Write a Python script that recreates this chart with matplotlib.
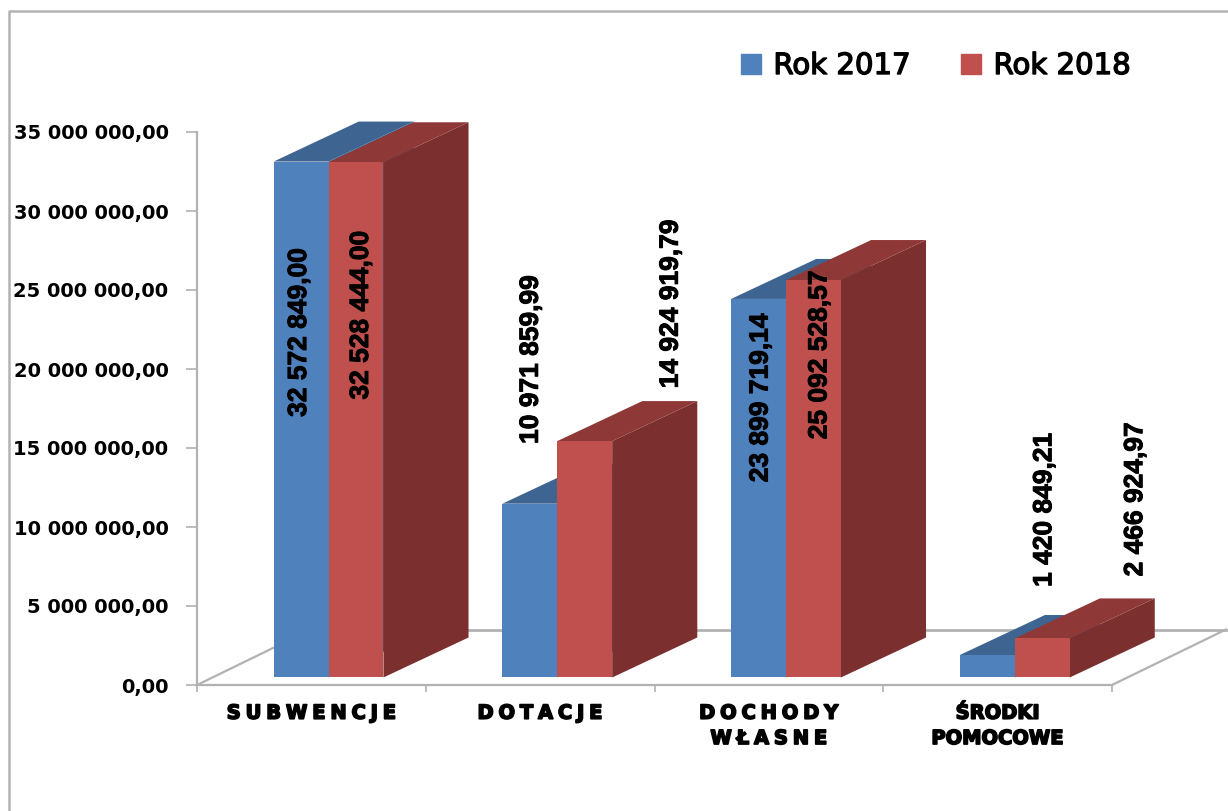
import matplotlib
matplotlib.use('Agg')
import matplotlib.pyplot as plt
import matplotlib.patheffects as pe
from matplotlib.lines import Line2D
from matplotlib.patches import Patch

categories = ['SUBWENCJE', 'DOTACJE', 'DOCHODY\nWŁASNE', 'ŚRODKI\nPOMOCOWE']
rok_2017 = [32572849.00, 10971859.99, 23899719.14, 1420849.21]
rok_2018 = [32528444.00, 14924919.79, 25092528.57, 2466924.97]
labels_2017 = ['32 572 849,00', '10 971 859,99', '23 899 719,14', '1 420 849,21']
labels_2018 = ['32 528 444,00', '14 924 919,79', '25 092 528,57', '2 466 924,97']
y_ticks = [0, 5000000, 10000000, 15000000, 20000000, 25000000, 30000000, 35000000]
y_tick_labels = ['0,00', '5 000 000,00', '10 000 000,00', '15 000 000,00',
                 '20 000 000,00', '25 000 000,00', '30 000 000,00', '35 000 000,00']

# label shifts in pixels from the top centre of the front face
shift_2017 = [(-2, -171), (1, 144), (2, -99), (57, 145)]
shift_2018 = [(5, -153), (86, 137), (6, -75), (93, 139)]

W, H = 1228, 811
GRAY = '#b2b2b2'
BAR_W = 0.24
BAR_X = 0.335
DEPTH_X = 0.372
DEPTH_Y = 40 * 35000000 / 553


# the front plane sits a bit above the axis
def front(v):
  return 475000 + v * 1.0025


def draw_bar(ax, x, v, face, top, side):
  ax.fill([x + BAR_W, x + BAR_W + DEPTH_X, x + BAR_W + DEPTH_X, x + BAR_W],
          [front(0), front(0) + DEPTH_Y, front(v) + DEPTH_Y, front(v)],
          color=side, lw=0, clip_on=False, zorder=3)
  ax.fill([x, x + DEPTH_X, x + BAR_W + DEPTH_X, x + BAR_W],
          [front(v), front(v) + DEPTH_Y, front(v) + DEPTH_Y, front(v)],
          color=top, lw=0, clip_on=False, zorder=3)
  ax.fill([x, x + BAR_W, x + BAR_W, x],
          [front(0), front(0), front(v), front(v)], color=face, lw=0, clip_on=False, zorder=3)


def spaced(text):
  return '\n'.join('\u2005'.join(line) for line in text.split('\n'))


fig = plt.figure(figsize=(W / 100, H / 100), dpi=100)
ax = fig.add_axes([197 / W, (H - 685) / H, 915 / W, 553 / H])
ax.patch.set_visible(False)
ax.set_xlim(0, 4)
ax.set_ylim(0, 35000000)

for s in ['top', 'right']:
  ax.spines[s].set_visible(False)
for s in ['left', 'bottom']:
  ax.spines[s].set_color(GRAY)
  ax.spines[s].set_linewidth(1.6)

ax.set_yticks(y_ticks)
ax.set_yticklabels(y_tick_labels, fontsize=14, fontweight='bold', family='DejaVu Sans')
ax.tick_params(axis='y', length=8, width=1.2, color=GRAY, pad=12.5)
ax.set_xticks(range(5))
ax.set_xticklabels([])
ax.tick_params(axis='x', length=5, width=1.2, color=GRAY)

ax.set_xticks([i + 0.5 for i in range(4)], minor=True)
ax.set_xticklabels([spaced(c) if i < 3 else c for i, c in enumerate(categories)], minor=True,
                   fontsize=14, fontweight='bold', family='DejaVu Sans', linespacing=1.42)
ax.tick_params(axis='x', which='minor', length=0, pad=13.5)
for t in ax.get_xticklabels(minor=True):
  t.set_path_effects([pe.withStroke(linewidth=1.2, foreground='black')])

# floor of the chart
floor_x = 114 / 228.75
floor_y = 55.5 * 35000000 / 553
ax.plot([0, floor_x], [0, floor_y], color=GRAY, lw=1.6, clip_on=False, zorder=1)
ax.plot([floor_x, 4 + floor_x], [floor_y, floor_y], color=GRAY, lw=2, clip_on=False, zorder=1)
ax.plot([4, 4 + floor_x], [0, floor_y], color=GRAY, lw=1.6, clip_on=False, zorder=1)

for i in range(len(categories)):
  x = i + BAR_X
  draw_bar(ax, x, rok_2017[i], '#4f81bd', '#3e6492', '#3e6492')
  draw_bar(ax, x + BAR_W, rok_2018[i], '#c0504d', '#8e3837', '#7b2f2f')
  for xc, v, txt, sh in [(x + BAR_W / 2, rok_2017[i], labels_2017[i], shift_2017[i]),
                         (x + BAR_W * 1.5, rok_2018[i], labels_2018[i], shift_2018[i])]:
    ax.annotate(txt, xy=(xc, front(v)), xytext=sh, textcoords='offset pixels', rotation=90,
                ha='center', va='center', fontsize=19, fontweight='bold',
                family='Liberation Sans', color='black', zorder=5, annotation_clip=False,
                path_effects=[pe.withStroke(linewidth=0.7, foreground='black')])

handles = [Patch(color='#4f81bd', label='Rok 2017'), Patch(color='#c0504d', label='Rok 2018')]
leg = fig.legend(handles=handles, loc='center', bbox_to_anchor=(936 / W, (H - 66) / H), ncol=2,
                 frameon=False, prop={'family': 'DejaVu Sans', 'size': 21},
                 handlelength=0.68, handleheight=0.7, handletextpad=0.42, columnspacing=1.75)
for t in leg.get_texts():
  t.set_path_effects([pe.withStroke(linewidth=1.0, foreground='black')])

# chart frame, only top and left are in the picture
fig.add_artist(Line2D([9 / W, 9 / W, 1], [0, (H - 11) / H, (H - 11) / H], color=GRAY, lw=1.8))

fig.savefig('out.png', dpi=100)
